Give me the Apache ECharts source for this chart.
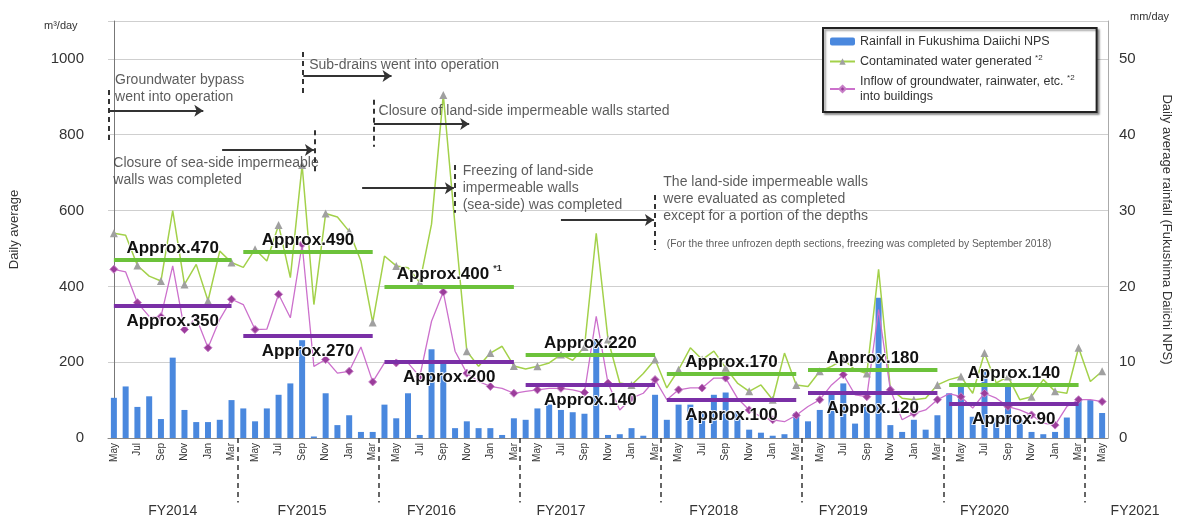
<!DOCTYPE html>
<html>
<head>
<meta charset="utf-8">
<script src="https://cdn.jsdelivr.net/npm/echarts@6/dist/echarts.min.js"></script>
<style>
  html, body { margin: 0; padding: 0; background: #fff; }
  #chart { width: 1181px; height: 522px; }
</style>
</head>
<body>
<div id="chart"></div>
<script>
// months: May 2014 .. May 2021 (index 0 = May 2014)
var monthNames = ['Jan','Feb','Mar','Apr','May','Jun','Jul','Aug','Sep','Oct','Nov','Dec'];
var months = [];
for (var i = 0; i < 85; i++) {
  months.push(monthNames[(4 + i) % 12] + ' ' + (2014 + Math.floor((4 + i) / 12)));
}

// daily average rainfall, mm/day (right axis)
var rainfall = [
  5.3, 6.8, 4.1, 5.5, 2.5, 10.6, 3.7, 2.1, 2.1, 2.4, 5.0,
  3.9, 2.2, 3.9, 5.7, 7.2, 12.9, 0.2, 5.9, 1.7, 3.0, 0.8, 0.8,
  4.4, 2.6, 5.9, 0.4, 11.7, 10.2, 1.3, 2.2, 1.3, 1.3, 0.4, 2.6,
  2.4, 3.9, 4.4, 3.7, 3.4, 3.2, 13.0, 0.4, 0.5, 1.3, 0.3, 5.7,
  2.4, 4.4, 4.4, 3.5, 5.7, 6.0, 3.5, 1.1, 0.7, 0.3, 0.5, 3.3,
  2.2, 3.7, 5.9, 7.2, 1.9, 4.4, 18.5, 1.7, 0.8, 2.4, 1.1, 3.0,
  5.9, 7.2, 2.8, 8.8, 2.7, 6.8, 2.4, 0.8, 0.5, 0.8, 2.7, 5.3,
  5.0, 3.3
];

// contaminated water generated, m3/day
var contaminated = [
  540, 535, 455, 427, 414, 600, 405, 458, 362, 493, 463,
  450, 498, 467, 562, 423, 720, 352, 592, 583, 545, 467, 305,
  480, 454, 449, 410, 564, 905, 560, 229, 189, 224, 242, 190,
  182, 189, 198, 220, 205, 240, 540, 260, 145, 140, 170, 207,
  132, 180, 238, 207, 229, 185, 145, 123, 140, 101, 224, 140,
  136, 176, 189, 207, 180, 170, 445, 130, 105, 101, 105, 140,
  154, 162, 118, 224, 145, 162, 101, 109, 154, 123, 118, 238,
  149, 176
];

// inflow of groundwater, rainwater etc. into buildings, m3/day
var inflow = [
  445, 438, 357, 321, 320, 454, 286, 317, 238, 313, 366,
  352, 286, 287, 379, 317, 511, 189, 207, 171, 176, 240, 148,
  198, 198, 198, 162, 308, 385, 229, 171, 149, 136, 131, 118,
  123, 127, 131, 131, 127, 120, 321, 145, 74, 105, 118, 154,
  101, 127, 132, 132, 158, 158, 105, 74, 56, 48, 43, 60,
  83, 101, 140, 167, 114, 109, 339, 127, 48, 65, 74, 101,
  117, 109, 79, 118, 105, 83, 74, 61, 39, 34, 83, 101,
  101, 96
];

// fiscal year averages
var fyStart = [0, 11, 23, 35, 47, 59, 71];
var fyEnd = [10, 22, 34, 46, 58, 70, 82];
var greenAvg = [470, 490, 400, 220, 170, 180, 140];
var purpleAvg = [350, 270, 200, 140, 100, 120, 90];
var greenNote = ['', '', '*1', '', '', '', ''];

// fiscal year labels under the axis
var fyNames = ['FY2014', 'FY2015', 'FY2016', 'FY2017', 'FY2018', 'FY2019', 'FY2020', 'FY2021'];
var fyLabelIdx = [5, 16, 27, 38, 51, 62, 74, 84];
var fyBoundary = [10.5, 22.5, 34.5, 46.5, 58.5, 70.5, 82.5];

// event annotations (x in month index, y in m3/day)
var eventText = [
  'Groundwater bypass\nwent into operation',
  'Sub-drains went into operation',
  'Closure of land-side impermeable walls started',
  'Closure of sea-side impermeable\nwalls was completed',
  'Freezing of land-side\nimpermeable walls\n(sea-side) was completed',
  'The land-side impermeable walls\nwere evaluated as completed\nexcept for a portion of the depths',
  '(For the three unfrozen depth sections, freezing was completed by September 2018)'
];
var textX = [0.1, 16.6, 22.5, -0.05, 29.65, 46.7, 47.0];
var textY = [921, 984, 863, 702, 659, 630, 512];
var eventX = [-0.4, 16.05, 22.05, 17.05, 29.0, 46.0];
var eventTop = [918, 1018, 892, 812, 720, 641];
var eventBottom = [786, 900, 768, 694, 594, 496];
var arrowFrom = [-0.4, 16.1, 22.1, 9.2, 21.1, 38.0];
var arrowTo = [7.6, 23.6, 30.2, 17.0, 28.9, 45.9];
var arrowY = [863, 955, 828, 760, 659, 575];

var FONT = '"Liberation Sans", Arial, sans-serif';
var chart = echarts.init(document.getElementById('chart'));

var greenSegs = fyStart.map(function (s, k) {
  return { name: 'Approx.' + greenAvg[k], coords: [[s, greenAvg[k]], [fyEnd[k], greenAvg[k]]] };
});
var purpleSegs = fyStart.map(function (s, k) {
  return { name: 'Approx.' + purpleAvg[k], coords: [[s, purpleAvg[k]], [fyEnd[k], purpleAvg[k]]] };
});
var dashSegs = eventX.map(function (x, k) {
  return { coords: [[x, eventTop[k]], [x, eventBottom[k]]] };
});
var arrowSegs = arrowFrom.map(function (x, k) {
  return { coords: [[x, arrowY[k]], [arrowTo[k], arrowY[k]]] };
});
// FY separators run from the axis down past the month labels
var fySegs = fyBoundary.map(function (x) {
  return { coords: [[x, 0], [x, -170]] };
});
var textPts = eventText.map(function (t, k) {
  var item = { name: t, value: [textX[k], textY[k]] };
  if (k === 6) item.label = { fontSize: 10.3 };
  return item;
});

var avgLabel = {
  show: true,
  fontFamily: FONT,
  fontSize: 17,
  fontWeight: 'bold',
  color: '#111',
  textBorderColor: 'rgba(255,255,255,0.85)',
  textBorderWidth: 2,
  rich: {
    b: { fontFamily: FONT, fontSize: 17, fontWeight: 'bold', color: '#111',
         textBorderColor: 'rgba(255,255,255,0.85)', textBorderWidth: 2 },
    s: { fontFamily: FONT, fontSize: 9, color: '#333', verticalAlign: 'top', padding: [0, 0, 10, 4] }
  }
};

var legendNames = {
  'Rainfall in Fukushima Daiichi NPS': 'Rainfall in Fukushima Daiichi NPS',
  'Contaminated water generated': 'Contaminated water generated {s|*2}',
  'Inflow of groundwater, rainwater, etc. into buildings': 'Inflow of groundwater, rainwater, etc. {s|*2}\ninto buildings'
};

var option = {
  animation: false,
  backgroundColor: '#fff',
  textStyle: { fontFamily: FONT },
  grid: { left: 106, right: 68, top: 21, bottom: 84 },
  legend: {
    orient: 'vertical',
    left: 823,
    top: 28,
    padding: [6, 22, 8, 6],
    itemGap: 5,
    itemWidth: 25,
    itemHeight: 8,
    backgroundColor: '#fff',
    borderColor: '#222',
    borderWidth: 2,
    shadowColor: 'rgba(0,0,0,0.35)',
    shadowOffsetX: 2,
    shadowOffsetY: 2,
    shadowBlur: 2,
    data: ['Rainfall in Fukushima Daiichi NPS', 'Contaminated water generated',
           'Inflow of groundwater, rainwater, etc. into buildings'],
    formatter: function (name) { return legendNames[name]; },
    textStyle: {
      fontFamily: FONT, fontSize: 12.5, color: '#333', lineHeight: 15,
      rich: { s: { fontSize: 8, verticalAlign: 'top', padding: [0, 0, 6, 0], color: '#333' } }
    }
  },
  graphic: [
    { type: 'text', left: 44, top: 20, style: { text: 'm³/day', font: '11px ' + FONT, fill: '#333' } },
    { type: 'text', left: 1130, top: 11, style: { text: 'mm/day', font: '11px ' + FONT, fill: '#333' } }
  ],
  xAxis: [
    {
      type: 'category',
      data: months,
      boundaryGap: true,
      axisLine: { lineStyle: { color: '#888', width: 1 } },
      axisTick: { show: false },
      axisLabel: {
        interval: 1,
        rotate: 90,
        margin: 5,
        fontSize: 10,
        color: '#333',
        fontFamily: FONT,
        formatter: function (v) { return v.slice(0, 3); }
      },
      splitLine: { show: false }
    },
    {
      type: 'category',
      data: months,
      position: 'bottom',
      boundaryGap: true,
      axisLine: { show: false },
      axisTick: { show: false },
      axisLabel: {
        interval: function (idx) { return fyLabelIdx.indexOf(idx) >= 0; },
        margin: 66,
        fontSize: 14,
        color: '#333',
        fontFamily: FONT,
        formatter: function (v, idx) {
          var k = fyLabelIdx.indexOf(idx);
          if (k === fyNames.length - 1) return '{r|' + fyNames[k] + '}';
          return k >= 0 ? fyNames[k] : '';
        },
        rich: { r: { fontSize: 14, fontFamily: FONT, color: '#333', padding: [0, 0, 0, 66] } }
      },
      splitLine: { show: false }
    },
    { type: 'value', min: -0.5, max: 84.5, show: false, position: 'top' }
  ],
  yAxis: [
    {
      type: 'value',
      min: 0,
      max: 1100,
      interval: 200,
      name: 'Daily average',
      nameLocation: 'middle',
      nameRotate: 90,
      nameGap: 87,
      nameTextStyle: { fontSize: 13, color: '#333', fontFamily: FONT },
      axisLine: { show: true, lineStyle: { color: '#777' } },
      axisTick: { show: false },
      axisLabel: {
        margin: 24, fontSize: 15, color: '#333', fontFamily: FONT,
        formatter: function (v) { return v > 1000 ? '' : v; }
      },
      splitLine: { show: true, lineStyle: { color: '#cfcfcf', width: 1 } }
    },
    {
      type: 'value',
      min: 0,
      max: 55,
      interval: 10,
      position: 'right',
      name: 'Daily average rainfall (Fukushima Daiichi NPS)',
      nameLocation: 'middle',
      nameRotate: -90,
      nameGap: 52,
      nameTextStyle: { fontSize: 13, color: '#333', fontFamily: FONT },
      axisLine: { show: true, lineStyle: { color: '#aaa' } },
      axisTick: { show: false },
      axisLabel: {
        margin: 11, fontSize: 15, color: '#333', fontFamily: FONT,
        formatter: function (v) { return v > 50 ? '' : v; }
      },
      splitLine: { show: false }
    }
  ],
  series: [
    {
      name: 'Rainfall in Fukushima Daiichi NPS',
      type: 'bar',
      xAxisIndex: 0,
      yAxisIndex: 1,
      data: rainfall,
      barWidth: 6,
      itemStyle: { color: '#4a88de' },
      z: 2
    },
    {
      name: 'Contaminated water generated',
      type: 'line',
      xAxisIndex: 0,
      yAxisIndex: 0,
      data: contaminated,
      symbol: 'triangle',
      symbolSize: 8,
      itemStyle: { color: '#a0a0a0' },
      lineStyle: { color: '#a3d14a', width: 1.5 },
      z: 3
    },
    {
      name: 'Inflow of groundwater, rainwater, etc. into buildings',
      type: 'line',
      xAxisIndex: 0,
      yAxisIndex: 0,
      data: inflow,
      symbol: 'diamond',
      symbolSize: 8,
      itemStyle: { color: '#9b3d9b', borderColor: '#c77fc7', borderWidth: 1 },
      lineStyle: { color: '#cc70cc', width: 1.3 },
      z: 3
    },
    {
      name: 'green avg',
      type: 'lines',
      coordinateSystem: 'cartesian2d',
      xAxisIndex: 2,
      yAxisIndex: 0,
      data: greenSegs,
      symbol: 'none',
      lineStyle: { color: '#6cc23a', width: 4, opacity: 1 },
      label: Object.assign({}, avgLabel, {
        position: 'insideMiddleTop',
        distance: 3,
        formatter: function (p) {
          var n = greenNote[p.dataIndex];
          return '{b|' + p.name + '}' + (n ? '{s|' + n + '}' : '');
        }
      }),
      silent: true,
      z: 5
    },
    {
      name: 'purple avg',
      type: 'lines',
      coordinateSystem: 'cartesian2d',
      xAxisIndex: 2,
      yAxisIndex: 0,
      data: purpleSegs,
      symbol: 'none',
      lineStyle: { color: '#7a2fa6', width: 4, opacity: 1 },
      label: Object.assign({}, avgLabel, {
        position: 'insideMiddleBottom',
        distance: 7,
        formatter: function (p) { return '{b|' + p.name + '}'; }
      }),
      silent: true,
      z: 5
    },
    {
      name: 'event lines',
      type: 'lines',
      coordinateSystem: 'cartesian2d',
      xAxisIndex: 2,
      yAxisIndex: 0,
      data: dashSegs,
      symbol: 'none',
      lineStyle: { color: '#333', width: 2, type: [5, 4], opacity: 1 },
      silent: true,
      z: 6
    },
    {
      name: 'fy separators',
      type: 'lines',
      coordinateSystem: 'cartesian2d',
      xAxisIndex: 2,
      yAxisIndex: 0,
      data: fySegs,
      clip: false,
      symbol: 'none',
      lineStyle: { color: '#333', width: 1.5, type: [5, 4], opacity: 1 },
      silent: true,
      z: 6
    },
    {
      name: 'event arrows',
      type: 'lines',
      coordinateSystem: 'cartesian2d',
      xAxisIndex: 2,
      yAxisIndex: 0,
      data: arrowSegs,
      symbol: ['none', 'arrow'],
      symbolSize: 9,
      lineStyle: { color: '#333', width: 1.8, opacity: 1 },
      silent: true,
      z: 6
    },
    {
      name: 'event text',
      type: 'scatter',
      xAxisIndex: 2,
      yAxisIndex: 0,
      data: textPts,
      symbolSize: 0,
      silent: true,
      label: {
        show: true,
        position: 'right',
        distance: 0,
        formatter: '{b}',
        fontFamily: FONT,
        fontSize: 14,
        lineHeight: 17,
        color: '#333'
      },
      z: 6
    }
  ]
};

chart.setOption(option);
</script>
</body>
</html>
